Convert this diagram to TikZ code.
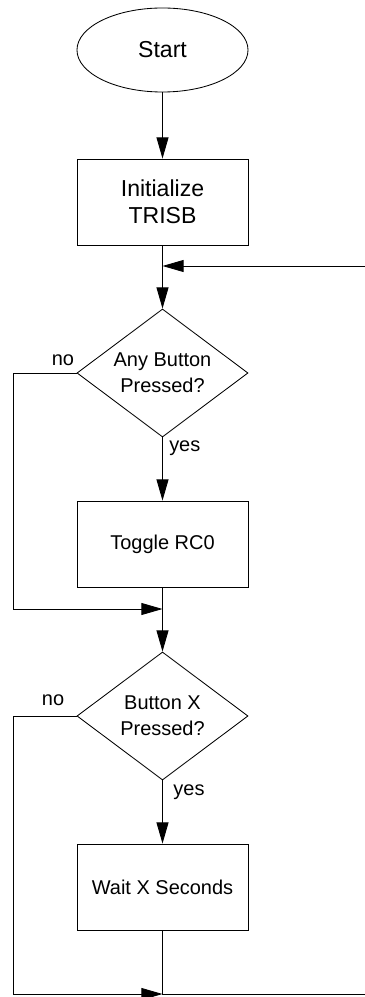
\documentclass[tikz,border=0pt]{standalone}
\usepackage{fontspec}
\setmainfont{Liberation Sans}
\usetikzlibrary{shapes.geometric,arrows.meta}

\tikzset{
	bigtext/.style = {font=\fontsize{16.4}{19.5}\selectfont},
	smalltext/.style = {font=\fontsize{14.2}{18.5}\selectfont},
	startnode/.style = {draw, ellipse, bigtext, minimum width=4.275cm, minimum height=2.1cm, inner sep=0pt},
	procbox/.style = {draw, rectangle, align=center, minimum width=4.275cm, minimum height=2.15cm, inner sep=0pt},
	decision/.style = {draw, diamond, smalltext, align=center, aspect=1.336, minimum width=4.275cm, minimum height=3.2cm, inner sep=0pt},
	flow/.style = {-{Triangle[length=15pt,width=8.5pt]}},
	lbl/.style = {smalltext, inner sep=0pt}
}

\begin{document}
\begin{tikzpicture}[x=0.025cm, y=-0.025cm, line width=0.6pt]
		
		\useasboundingbox (0,0) rectangle (365,997);
		
		\node[startnode] (start) at (162.5,50) {Start};
		\node[procbox, bigtext] (init) at (162.5,202) {Initialize\\TRISB};
		\node[decision] (any) at (162.5,373) {Any Button\\Pressed?};
		\node[procbox, smalltext] (toggle) at (162.5,544) {Toggle RC0};
		\node[decision] (btnx) at (162.5,716) {Button X\\Pressed?};
		\node[procbox, smalltext] (wait) at (162.5,887) {Wait X Seconds};
		
		\coordinate (j1) at (162.5,266);
		\coordinate (r1) at (365,266);
		\coordinate (l1) at (13,373);
		\coordinate (j2) at (162.5,609);
		\coordinate (l2) at (13,716);
		\coordinate (j3) at (162.5,994);
		\coordinate (r3) at (365,994);
		
		\draw[flow] (start) -- (init);
		\draw (init) -- (j1);
		\draw[flow] (r1) -- (j1);
		\draw[flow] (j1) -- (any);
		
		\draw[flow] (any) -- (toggle);
		\draw[flow] (any) -- (l1) |- (j2);
		\draw (toggle) -- (j2);
		\draw[flow] (j2) -- (btnx);
		
		\draw[flow] (btnx) -- (wait);
		\draw[flow] (btnx) -- (l2) |- (j3);
		\draw (wait) -- (j3) -- (r3);
		
		\node[lbl, anchor=south east] (no1) at ([xshift=-1.5pt, yshift=5pt]any.west) {no};
		\node[lbl, anchor=north west] (yes1) at ([xshift=4.5pt, yshift=-2pt]any.south) {yes};
		\node[lbl, anchor=south east] (no2) at ([xshift=-8.5pt, yshift=7pt]btnx.west) {no};
		\node[lbl, anchor=north west] (yes2) at ([xshift=7.5pt, yshift=-3pt]btnx.south) {yes};
		
	\end{tikzpicture}
\end{document}
